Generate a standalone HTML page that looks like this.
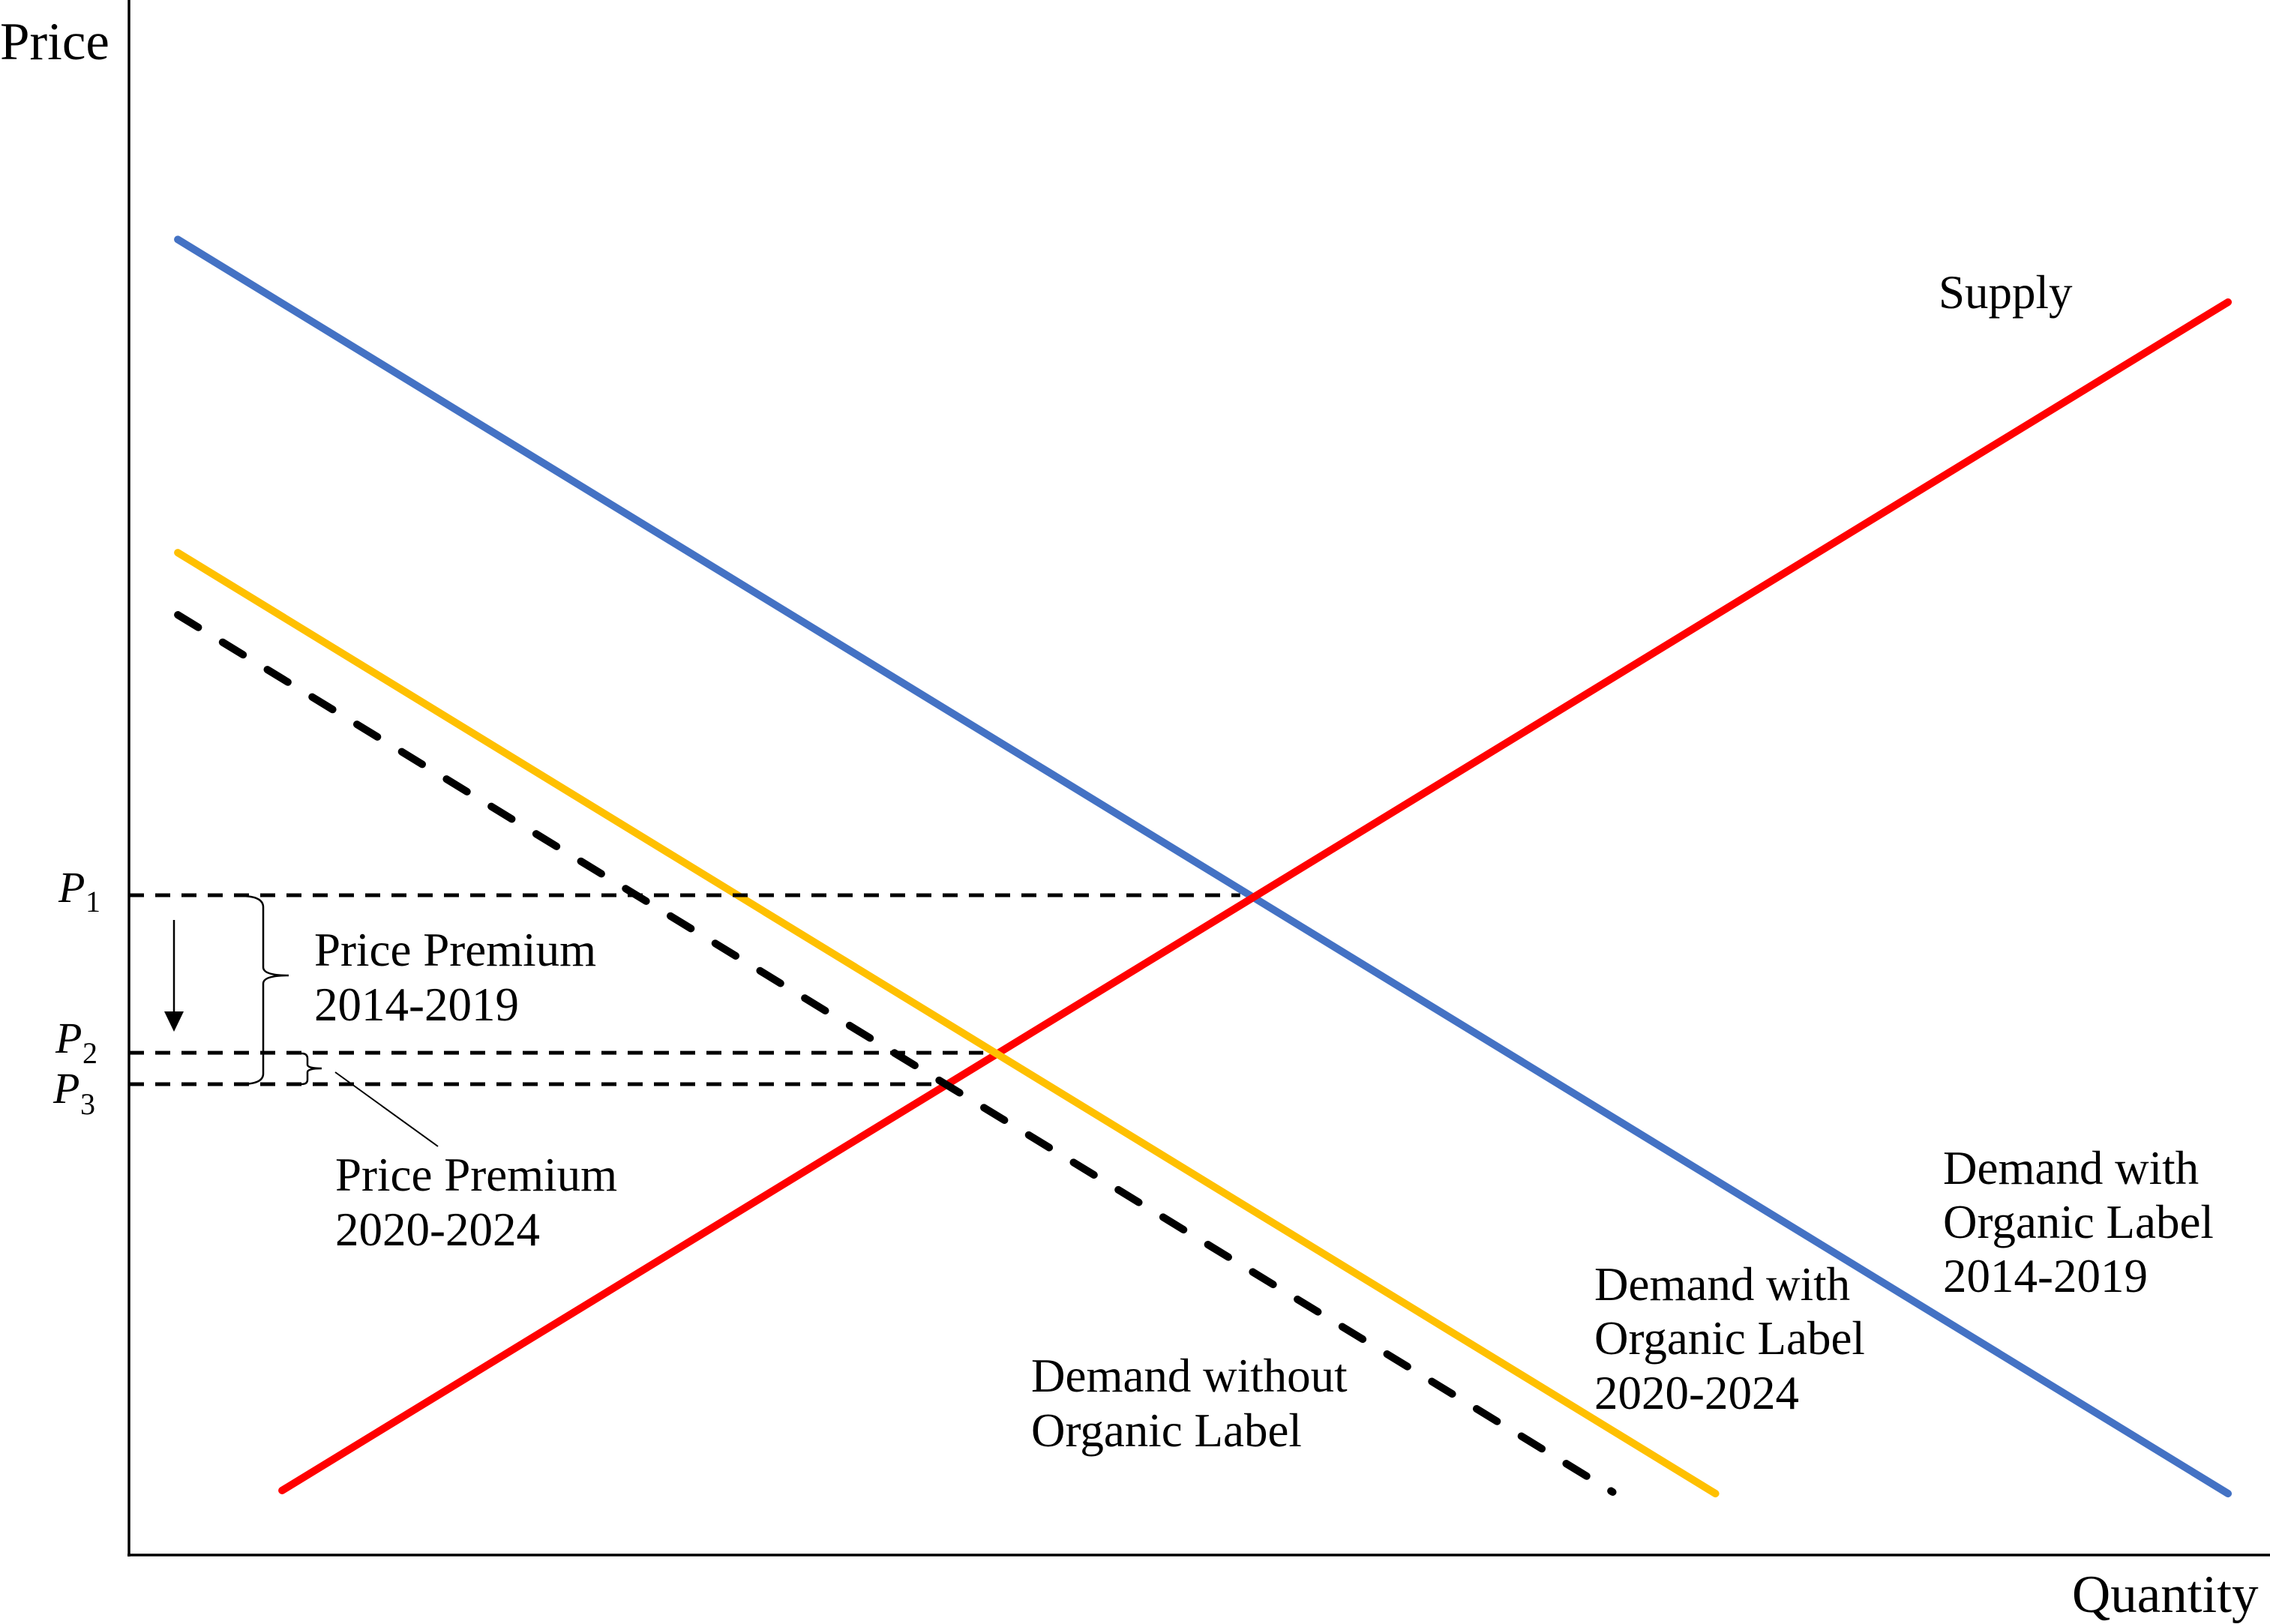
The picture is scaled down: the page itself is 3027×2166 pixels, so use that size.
<!DOCTYPE html>
<html>
<head>
<meta charset="utf-8">
<style>
html,body{margin:0;padding:0;background:#fff;}
svg{display:block;}
text{font-family:"Liberation Serif","DejaVu Serif",serif;fill:#000;}
</style>
</head>
<body>
<svg id="chart" width="3027" height="2166" viewBox="0 0 3027 2166" xmlns="http://www.w3.org/2000/svg">
  <rect width="3027" height="2166" fill="#fff"/>
  <g id="curves"></g>
  <g id="plines"></g>
  <!-- axes -->
  <line x1="172" y1="0" x2="172" y2="2076" stroke="#000" stroke-width="3.5"/>
  <line x1="170" y1="2074" x2="3027" y2="2074" stroke="#000" stroke-width="3.5"/>
  <text x="0" y="79" font-size="71">Price</text>
  <text x="2763" y="2150" font-size="71">Quantity</text>

  <!-- price labels -->
  <g><text x="78" y="1203" font-size="58" font-style="italic">P</text><text x="114" y="1216" font-size="40">1</text></g>
  <g><text x="74" y="1404" font-size="58" font-style="italic">P</text><text x="110" y="1418" font-size="40">2</text></g>
  <g><text x="71" y="1471" font-size="58" font-style="italic">P</text><text x="107" y="1486" font-size="40">3</text></g>

  <!-- arrow -->
  <g>
    <line x1="232" y1="1227" x2="232" y2="1352" stroke="#000" stroke-width="2.5"/>
    <polygon points="219,1349 245,1349 232,1376" fill="#000"/>
  </g>
  <!-- braces -->
  <path d="M321,1195 Q351,1195 351,1210 L351,1290 Q351,1301 385,1301 Q351,1301 351,1312 L351,1432 Q351,1446 321,1446" fill="none" stroke="#000" stroke-width="2.5"/>
  <path d="M402,1405 Q410,1405 410,1412 L410,1420 Q410,1425 429,1425 Q410,1425 410,1430 L410,1440 Q410,1446 402,1446" fill="none" stroke="#000" stroke-width="2.5"/>
  <line x1="447" y1="1430" x2="584" y2="1529" stroke="#000" stroke-width="2"/>

  <!-- annotation text -->
  <g font-size="63">
    <text x="419" y="1288">Price Premium</text>
    <text x="419" y="1361">2014-2019</text>
  </g>
  <g font-size="63">
    <text x="447" y="1588">Price Premium</text>
    <text x="447" y="1661">2020-2024</text>
  </g>
  <text x="2585" y="411" font-size="63">Supply</text>
  <g font-size="63">
    <text x="2591" y="1579">Demand with</text>
    <text x="2591" y="1651">Organic Label</text>
    <text x="2591" y="1723">2014-2019</text>
  </g>
  <g font-size="63">
    <text x="2126" y="1734">Demand with</text>
    <text x="2126" y="1806">Organic Label</text>
    <text x="2126" y="1879">2020-2024</text>
  </g>
  <g font-size="63">
    <text x="1375" y="1856">Demand without</text>
    <text x="1375" y="1929">Organic Label</text>
  </g>
</svg>
<script>
// Data in chart units: quantity 0-100, price 0-100
const curveNames = ["demand-2014-2019", "supply", "demand-2020-2024", "demand-without-label"];
const curveStartQ = [2.28, 7.15, 2.28, 2.28];
const curveStartP = [84.6, 4.15, 64.46, 60.46];
const curveEndQ = [98.04, 98.04, 74.1, 69.3];
const curveEndP = [3.95, 80.57, 3.95, 4.05];
const curveColors = ["#4472c4", "#ff0000", "#ffc000", "#000000"];
const curveDashed = [false, false, false, true];

const priceLevelNames = ["p1-line", "p2-line", "p3-line"];
const priceLevels = [42.43, 32.3, 30.28];
const priceLevelEndQ = [51.9, 39.9, 38.3];

const X0 = 172, X1 = 3027, Y0 = 2074, Y1 = 0;
function xScale(q){ return X0 + q * (X1 - X0) / 100; }
function yScale(p){ return Y0 - p * (Y0 - Y1) / 100; }
const NS = "http://www.w3.org/2000/svg";

const curvesG = document.getElementById("curves");
for (let i = 0; i < curveNames.length; i++) {
  const l = document.createElementNS(NS, "line");
  l.setAttribute("x1", xScale(curveStartQ[i]));
  l.setAttribute("y1", yScale(curveStartP[i]));
  l.setAttribute("x2", xScale(curveEndQ[i]));
  l.setAttribute("y2", yScale(curveEndP[i]));
  l.setAttribute("stroke", curveColors[i]);
  l.setAttribute("stroke-width", "10");
  l.setAttribute("stroke-linecap", "round");
  if (curveDashed[i]) l.setAttribute("stroke-dasharray", "32 38");
  
  
  curvesG.appendChild(l);
}

const pG = document.getElementById("plines");
for (let i = 0; i < priceLevels.length; i++) {
  const l = document.createElementNS(NS, "line");
  l.setAttribute("x1", xScale(0));
  l.setAttribute("y1", yScale(priceLevels[i]));
  l.setAttribute("x2", xScale(priceLevelEndQ[i]));
  l.setAttribute("y2", yScale(priceLevels[i]));
  l.setAttribute("stroke", "#000");
  l.setAttribute("stroke-width", "5");
  l.setAttribute("stroke-dasharray", "20 15");
  
  
  pG.appendChild(l);
}
</script>
</body>
</html>
